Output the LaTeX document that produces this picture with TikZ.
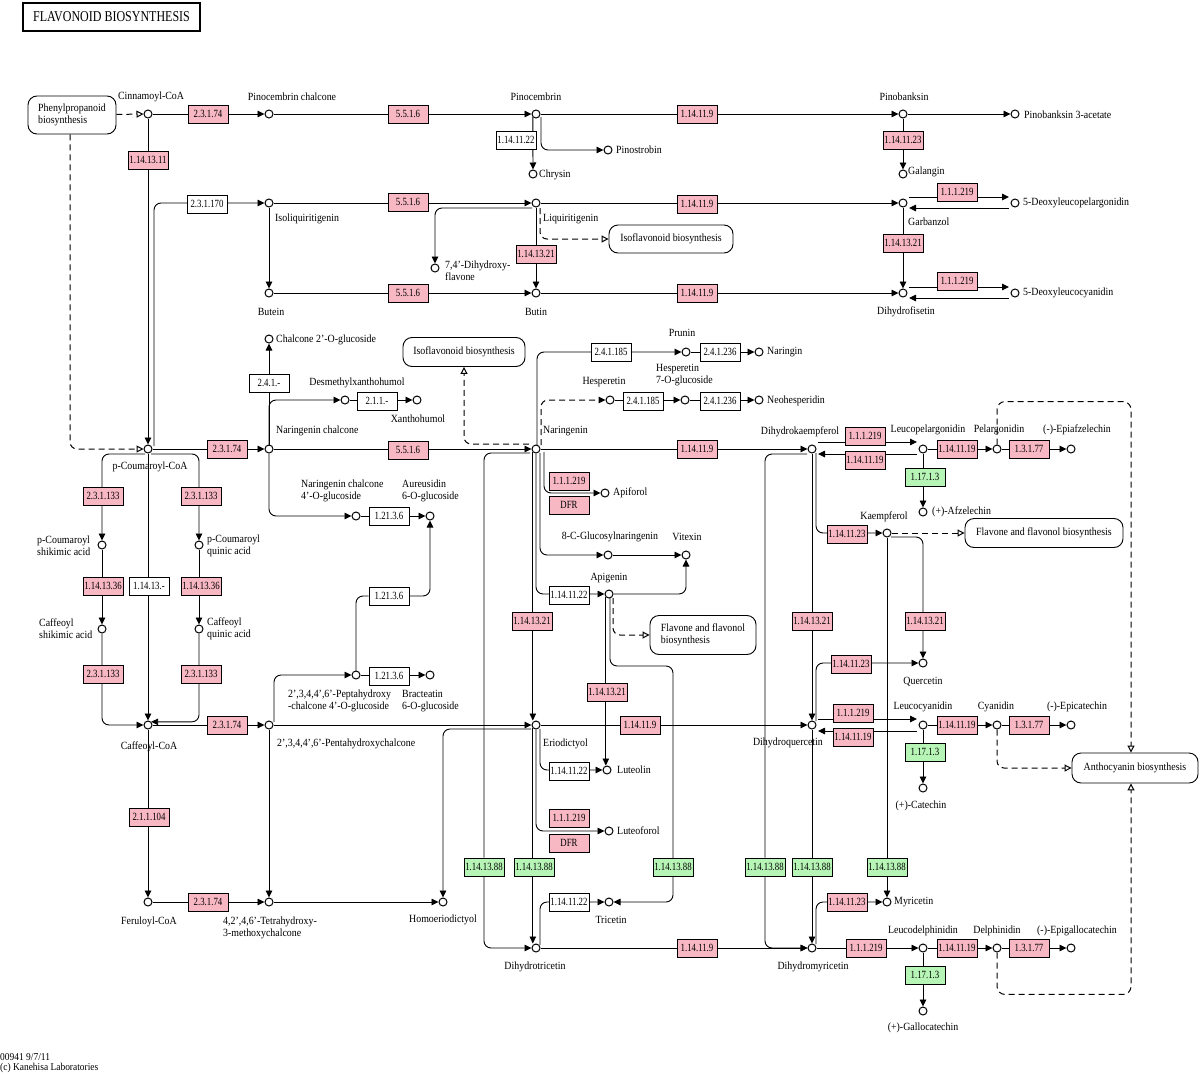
\documentclass[tikz,border=0pt]{standalone}
\usepackage{fontspec}
\setmainfont{Liberation Serif}[FakeStretch=0.9]
\newfontfamily\ecfont[FakeStretch=0.8]{Liberation Serif}
\newfontfamily\titlefont[FakeStretch=0.8]{Liberation Serif}
\usetikzlibrary{arrows.meta,calc,backgrounds}
\definecolor{ecpink}{RGB}{247,183,195}
\definecolor{ecgreen}{RGB}{183,245,183}
\tikzset{
 cpd/.style={circle, draw, fill=white, line width=1pt, minimum size=8pt, inner sep=0pt},
 ec/.style={draw, line width=0.9pt, minimum width=40pt, minimum height=18pt, inner sep=0pt, font=\ecfont\fontsize{11}{11}\selectfont},
 pk/.style={ec, fill=ecpink},
 gr/.style={ec, fill=ecgreen},
 wt/.style={ec, fill=white},
 lbl/.style={inner sep=0pt, font=\fontsize{11}{12}\selectfont},
 lblw/.style={lbl, anchor=west, align=left},
 mapbox/.style={draw, rounded corners=9pt, fill=white, line width=0.9pt, inner sep=0pt, font=\fontsize{11}{12}\selectfont, align=left},
 conn/.style={line width=0.9pt},
 arr/.style={conn, -{Triangle[length=7pt,width=6.5pt]}},
 darr/.style={line width=1pt, dash pattern=on 6pt off 4pt, -{Triangle[open,length=7pt,width=7pt,fill=white]}},
 dfarr/.style={arr, line width=1pt, dash pattern=on 6pt off 4pt},
 rc/.style={rounded corners=7pt},
}
\begin{document}
\begin{tikzpicture}[x=1pt,y=-1pt]
\useasboundingbox (0,0) rectangle (1200,1076);
% title and footer
\node[draw, line width=2.2pt, minimum width=177pt, minimum height=28pt, inner sep=0pt, font=\titlefont\fontsize{15}{15}\selectfont] (title) at (111.5,17) {FLAVONOID BIOSYNTHESIS};
\node[lbl, anchor=west, font=\fontsize{10.5}{11}\selectfont] (foot1) at (0,1057) {00941 9/7/11};
\node[lbl, anchor=west, font=\fontsize{10.5}{11}\selectfont] (foot2) at (0,1068) {(c) Kanehisa Laboratories};
% map boxes
\node[mapbox, minimum width=88pt, minimum height=38pt] (m_phe) at (72,115) {Phenylpropanoid\\biosynthesis};
\node[mapbox, minimum width=124pt, minimum height=28pt] (m_iso1) at (671,239) {Isoflavonoid biosynthesis};
\node[mapbox, minimum width=122pt, minimum height=29pt] (m_iso2) at (464,352) {Isoflavonoid biosynthesis};
\node[mapbox, minimum width=106pt, minimum height=39pt] (m_fla1) at (703,635) {Flavone and flavonol\\biosynthesis};
\node[mapbox, minimum width=158pt, minimum height=29pt] (m_fla2) at (1044,533) {Flavone and flavonol biosynthesis};
\node[mapbox, minimum width=126pt, minimum height=30pt] (m_ant) at (1135,768) {Anthocyanin biosynthesis};
% compounds
\node[cpd] (cin) at (148,114) {};
\node[cpd] (pcc) at (269,114) {};
\node[cpd] (pcb) at (536,114) {};
\node[cpd] (chr) at (533,174) {};
\node[cpd] (pst) at (608,150) {};
\node[cpd] (pbk) at (903,114) {};
\node[cpd] (pba) at (1015,114) {};
\node[cpd] (gal) at (903,174) {};
\node[cpd] (iso) at (269,203) {};
\node[cpd] (liq) at (536,203) {};
\node[cpd] (gar) at (903,203) {};
\node[cpd] (dlp) at (1015,203) {};
\node[cpd] (dhf7) at (435,268) {};
\node[cpd] (but) at (269,293) {};
\node[cpd] (btn) at (536,293) {};
\node[cpd] (dhf) at (903,293) {};
\node[cpd] (dlc) at (1015,293) {};
\node[cpd] (c2g) at (269,339) {};
\node[cpd] (dmx) at (345,400) {};
\node[cpd] (xan) at (417,400) {};
\node[cpd] (pcoa) at (148,449) {};
\node[cpd] (nch) at (269,449) {};
\node[cpd] (nar) at (536,449) {};
\node[cpd] (prn) at (686,352) {};
\node[cpd] (ngn) at (759,352) {};
\node[cpd] (hes) at (610,400) {};
\node[cpd] (h7g) at (685,400) {};
\node[cpd] (neo) at (759,400) {};
\node[cpd] (dhk) at (812,449) {};
\node[cpd] (lpg) at (923,449) {};
\node[cpd] (plg) at (997,449) {};
\node[cpd] (epz) at (1071,449) {};
\node[cpd] (afz) at (923,512) {};
\node[cpd] (kmp) at (887,533) {};
\node[cpd] (nc4) at (356,516) {};
\node[cpd] (aur) at (430,516) {};
\node[cpd] (apf) at (605,493) {};
\node[cpd] (cgn) at (608,555) {};
\node[cpd] (vit) at (686,555) {};
\node[cpd] (api) at (609,594) {};
\node[cpd] (pcs) at (102,545) {};
\node[cpd] (cfs) at (102,629) {};
\node[cpd] (pcq) at (199,545) {};
\node[cpd] (cfq) at (199,629) {};
\node[cpd] (caf) at (148,725) {};
\node[cpd] (pen) at (269,725) {};
\node[cpd] (fer) at (148,902) {};
\node[cpd] (thm) at (269,902) {};
\node[cpd] (pep) at (356,675) {};
\node[cpd] (brc) at (430,675) {};
\node[cpd] (eri) at (536,725) {};
\node[cpd] (hom) at (443,902) {};
\node[cpd] (lut) at (607,770) {};
\node[cpd] (ltf) at (609,831) {};
\node[cpd] (tri) at (609,902) {};
\node[cpd] (dht) at (536,948) {};
\node[cpd] (dhq) at (812,725) {};
\node[cpd] (qrc) at (923,663) {};
\node[cpd] (lcy) at (923,725) {};
\node[cpd] (cya) at (997,725) {};
\node[cpd] (epc) at (1071,725) {};
\node[cpd] (cat) at (923,788) {};
\node[cpd] (myr) at (887,902) {};
\node[cpd] (dhm) at (812,948) {};
\node[cpd] (ldp) at (923,948) {};
\node[cpd] (dlh) at (997,948) {};
\node[cpd] (egc) at (1071,948) {};
\node[cpd] (gct) at (923,1011) {};
% enzymes
\node[pk] (e1) at (208,114) {2.3.1.74};
\node[pk] (e2) at (148,160) {1.14.13.11};
\node[pk] (e3) at (408,114) {5.5.1.6};
\node[pk] (e4) at (697,114) {1.14.11.9};
\node[wt] (e5) at (516,140) {1.14.11.22};
\node[pk] (e6) at (903,140) {1.14.11.23};
\node[pk] (e7) at (957,192) {1.1.1.219};
\node[pk] (e8) at (903,243) {1.14.13.21};
\node[pk] (e9) at (957,281) {1.1.1.219};
\node[wt] (e10) at (207,204) {2.3.1.170};
\node[pk] (e11) at (408,202) {5.5.1.6};
\node[pk] (e12) at (697,204) {1.14.11.9};
\node[pk] (e13) at (536,254) {1.14.13.21};
\node[pk] (e14) at (408,293) {5.5.1.6};
\node[pk] (e15) at (697,293) {1.14.11.9};
\node[wt] (e16) at (269,383) {2.4.1.-};
\node[wt] (e17) at (377,401) {2.1.1.-};
\node[pk] (e18) at (227,449) {2.3.1.74};
\node[pk] (e19) at (408,450) {5.5.1.6};
\node[wt] (e20) at (611,352) {2.4.1.185};
\node[wt] (e21) at (720,352) {2.4.1.236};
\node[wt] (e22) at (643,401) {2.4.1.185};
\node[wt] (e23) at (720,401) {2.4.1.236};
\node[pk] (e24) at (697,449) {1.14.11.9};
\node[pk] (e25) at (865,436) {1.1.1.219};
\node[pk] (e26) at (865,460) {1.14.11.19};
\node[pk] (e27) at (957,449) {1.14.11.19};
\node[pk] (e28) at (1029,449) {1.3.1.77};
\node[gr] (e29) at (925,477) {1.17.1.3};
\node[pk] (e30) at (847,534) {1.14.11.23};
\node[wt] (e31) at (389,516) {1.21.3.6};
\node[wt] (e32) at (389,596) {1.21.3.6};
\node[wt] (e33) at (389,676) {1.21.3.6};
\node[pk] (e34) at (569,481) {1.1.1.219};
\node[pk] (e35) at (569,505) {DFR};
\node[wt] (e36) at (569,595) {1.14.11.22};
\node[pk] (e37) at (532,621) {1.14.13.21};
\node[pk] (e38) at (607,692) {1.14.13.21};
\node[pk] (e39) at (103,496) {2.3.1.133};
\node[pk] (e40) at (201,496) {2.3.1.133};
\node[pk] (e41) at (103,586) {1.14.13.36};
\node[wt] (e42) at (149,586) {1.14.13.-};
\node[pk] (e43) at (201,586) {1.14.13.36};
\node[pk] (e44) at (103,674) {2.3.1.133};
\node[pk] (e45) at (201,674) {2.3.1.133};
\node[pk] (e46) at (227,725) {2.3.1.74};
\node[pk] (e47) at (149,817) {2.1.1.104};
\node[pk] (e48) at (208,902) {2.3.1.74};
\node[gr] (e49) at (484,867) {1.14.13.88};
\node[gr] (e50) at (534,867) {1.14.13.88};
\node[wt] (e51) at (569,771) {1.14.11.22};
\node[pk] (e52) at (569,818) {1.1.1.219};
\node[pk] (e53) at (569,843) {DFR};
\node[wt] (e54) at (569,902) {1.14.11.22};
\node[pk] (e55) at (640,725) {1.14.11.9};
\node[gr] (e56) at (673,867) {1.14.13.88};
\node[gr] (e57) at (765,867) {1.14.13.88};
\node[gr] (e58) at (812,867) {1.14.13.88};
\node[gr] (e59) at (887,867) {1.14.13.88};
\node[pk] (e60) at (847,902) {1.14.11.23};
\node[pk] (e61) at (697,948) {1.14.11.9};
\node[pk] (e62) at (866,948) {1.1.1.219};
\node[pk] (e63) at (957,948) {1.14.11.19};
\node[pk] (e64) at (1029,948) {1.3.1.77};
\node[gr] (e65) at (925,975) {1.17.1.3};
\node[pk] (e66) at (853,713) {1.1.1.219};
\node[pk] (e67) at (853,737) {1.14.11.19};
\node[pk] (e68) at (957,725) {1.14.11.19};
\node[pk] (e69) at (1029,725) {1.3.1.77};
\node[gr] (e70) at (925,752) {1.17.1.3};
\node[pk] (e71) at (812,621) {1.14.13.21};
\node[pk] (e72) at (925,621) {1.14.13.21};
\node[pk] (e73) at (851,664) {1.14.11.23};
% labels
\node[lbl] (l_cin) at (151,97) {Cinnamoyl-CoA};
\node[lbl] (l_pcc) at (292,97) {Pinocembrin chalcone};
\node[lbl] (l_pcb) at (536,97) {Pinocembrin};
\node[lbl] (l_pbk) at (904,97) {Pinobanksin};
\node[lblw] (l_pba) at (1024,115) {Pinobanksin 3-acetate};
\node[lblw] (l_chr) at (539,175) {Chrysin};
\node[lblw] (l_pst) at (616,150) {Pinostrobin};
\node[lblw] (l_gal) at (908,172) {Galangin};
\node[lblw] (l_iso) at (275,219) {Isoliquiritigenin};
\node[lblw] (l_liq) at (543,219) {Liquiritigenin};
\node[lblw] (l_gar) at (908,222) {Garbanzol};
\node[lblw] (l_dlp) at (1023,203) {5-Deoxyleucopelargonidin};
\node[lblw] (l_dhf7) at (445,271) {7,4'-Dihydroxy-\\flavone};
\node[lbl] (l_but) at (271,312) {Butein};
\node[lbl] (l_btn) at (536,312) {Butin};
\node[lbl] (l_dhf) at (906,312) {Dihydrofisetin};
\node[lblw] (l_dlc) at (1023,293) {5-Deoxyleucocyanidin};
\node[lblw] (l_c2g) at (276,340) {Chalcone 2'-O-glucoside};
\node[lbl] (l_dmx) at (357,383) {Desmethylxanthohumol};
\node[lbl] (l_xan) at (418,419) {Xanthohumol};
\node[lbl] (l_pcoa) at (150,467) {p-Coumaroyl-CoA};
\node[lblw] (l_nch) at (276,431) {Naringenin chalcone};
\node[lblw] (l_nar) at (543,431) {Naringenin};
\node[lbl] (l_prn) at (682,333) {Prunin};
\node[lblw] (l_ngn) at (767,352) {Naringin};
\node[lbl] (l_hes) at (604,382) {Hesperetin};
\node[lblw] (l_h7g) at (656,375) {Hesperetin\\7-O-glucoside};
\node[lblw] (l_neo) at (767,401) {Neohesperidin};
\node[lbl] (l_dhk) at (800,432) {Dihydrokaempferol};
\node[lbl] (l_lpg) at (928,430) {Leucopelargonidin};
\node[lbl] (l_plg) at (999,430) {Pelargonidin};
\node[lbl] (l_epz) at (1077,430) {(-)-Epiafzelechin};
\node[lblw] (l_afz) at (932,512) {(+)-Afzelechin};
\node[lbl] (l_kmp) at (884,517) {Kaempferol};
\node[lblw] (l_nc4) at (301,491) {Naringenin chalcone\\4'-O-glucoside};
\node[lblw] (l_aur) at (402,491) {Aureusidin\\6-O-glucoside};
\node[lblw] (l_apf) at (613,493) {Apiforol};
\node[lbl] (l_cgn) at (610,537) {8-C-Glucosylnaringenin};
\node[lbl] (l_vit) at (687,537) {Vitexin};
\node[lbl] (l_api) at (609,578) {Apigenin};
\node[lblw] (l_pcs) at (37,546) {p-Coumaroyl\\shikimic acid};
\node[lblw] (l_cfs) at (39,629) {Caffeoyl\\shikimic acid};
\node[lblw] (l_pcq) at (207,546) {p-Coumaroyl\\quinic acid};
\node[lblw] (l_cfq) at (207,629) {Caffeoyl\\quinic acid};
\node[lbl] (l_caf) at (149,747) {Caffeoyl-CoA};
\node[lblw] (l_pen) at (277,744) {2',3,4,4',6'-Pentahydroxychalcone};
\node[lbl] (l_fer) at (149,922) {Feruloyl-CoA};
\node[lblw] (l_thm) at (223,928) {4,2',4,6'-Tetrahydroxy-\\3-methoxychalcone};
\node[lblw] (l_pep) at (288,701) {2',3,4,4',6'-Peptahydroxy\\-chalcone 4'-O-glucoside};
\node[lblw] (l_brc) at (402,701) {Bracteatin\\6-O-glucoside};
\node[lblw] (l_eri) at (543,744) {Eriodictyol};
\node[lbl] (l_hom) at (443,920) {Homoeriodictyol};
\node[lblw] (l_lut) at (617,770) {Luteolin};
\node[lblw] (l_ltf) at (617,831) {Luteoforol};
\node[lbl] (l_tri) at (611,920) {Tricetin};
\node[lbl] (l_dht) at (535,967) {Dihydrotricetin};
\node[lbl] (l_dhq) at (788,743) {Dihydroquercetin};
\node[lbl] (l_qrc) at (923,682) {Quercetin};
\node[lbl] (l_lcy) at (923,707) {Leucocyanidin};
\node[lbl] (l_cya) at (996,707) {Cyanidin};
\node[lbl] (l_epc) at (1077,707) {(-)-Epicatechin};
\node[lbl] (l_cat) at (921,806) {(+)-Catechin};
\node[lblw] (l_myr) at (894,902) {Myricetin};
\node[lbl] (l_dhm) at (813,967) {Dihydromyricetin};
\node[lbl] (l_ldp) at (923,931) {Leucodelphinidin};
\node[lbl] (l_dlh) at (997,931) {Delphinidin};
\node[lbl] (l_egc) at (1077,931) {(-)-Epigallocatechin};
\node[lbl] (l_gct) at (923,1028) {(+)-Gallocatechin};
% connectors
\begin{pgfonlayer}{background}
\draw[darr] (m_phe) -- (cin);
\draw[darr, rc] ([xshift=-2pt]m_phe.south) |- (pcoa);
\draw[arr] (cin) -- (pcc);
\draw[arr] (pcc) -- (pcb);
\draw[arr] (pcb) -- (pbk);
\draw[arr] (pbk) -- (pba);
\draw[arr] (pcb.south west) -- (chr);
\draw[arr, rc] ($(pcb)+(5,3)$) |- (pst);
\draw[arr] (pbk) -- (gal);
\draw[arr] (cin) -- (pcoa);
\draw[arr, rc] ($(pcoa)+(6,-3)$) |- (iso);
\draw[arr] (iso) -- (liq);
\draw[arr] (liq) -- (gar);
\draw[arr] ($(gar)+(6,-6)$) -- ($(dlp)+(-6,-6)$);
\draw[arr] ($(dlp)+(-6,5)$) -- ($(gar)+(6,5)$);
\draw[arr] (gar) -- (dhf);
\draw[arr] ($(dhf)+(6,-6)$) -- ($(dlc)+(-6,-6)$);
\draw[arr] ($(dlc)+(-6,5)$) -- ($(dhf)+(6,5)$);
\draw[arr] (iso) -- (but);
\draw[arr] (but) -- (btn);
\draw[arr] (btn) -- (dhf);
\draw[arr] (liq) -- (btn);
\draw[arr, rc] ($(liq)+(-4,5)$) -| (dhf7);
\draw[darr, rc] ($(liq)+(4,5)$) |- (m_iso1);
\draw[arr] (nch) -- (c2g);
\draw[arr, rc] (nch) |- (dmx);
\draw[arr] (dmx) -- (xan);
\draw[arr] (pcoa) -- (nch);
\draw[arr] (nch) -- (nar);
\draw[arr, rc] (nch) |- (nc4);
\draw[arr] (nc4) -- (aur);
\draw[darr, rc] ($(nar)+(-7,-5)$) -| (m_iso2);
\draw[arr, rc] ($(nar)+(1,-4)$) |- (prn);
\draw[arr] (prn) -- (ngn);
\draw[dfarr, rc] ($(nar)+(5,-4)$) |- (hes);
\draw[arr] (hes) -- (h7g);
\draw[arr] (h7g) -- (neo);
\draw[arr] (nar) -- (dhk);
\draw[arr] ($(dhk)+(6,-7)$) -- ($(lpg)+(-6,-7)$);
\draw[arr] ($(lpg)+(-6,5)$) -- ($(dhk)+(6,5)$);
\draw[arr] (lpg) -- (plg);
\draw[arr] (plg) -- (epz);
\draw[arr] (lpg) -- (afz);
\draw[darr, rounded corners=8pt] (plg.north) |- ($(m_ant.north)+(-4,-351)$) -- ($(m_ant.north)+(-4,0)$);
\draw[arr, rc] ($(nar)+(8,3)$) |- (apf);
\draw[arr, rc] ($(nar)+(4,4)$) |- (cgn);
\draw[arr] (cgn) -- (vit);
\draw[arr, rc] (nar.south) |- (api);
\draw[arr, rc] (api) -| (vit);
\draw[arr] (nar.south west) -- (nar.south west |- eri.north);
\draw[arr] (api.south west) -- (api.south west |- lut.north);
\draw[darr, rc] ($(api)+(4,4)$) |- (m_fla1);
\draw[arr, rc] ($(api)+(1,4)$) |- ($(e56)+(0,-201)$) |- (tri);
\draw[arr, rc] ($(pcoa)+(-3,5)$) -| (pcs);
\draw[arr, rc] ($(pcoa)+(3,5)$) -| (pcq);
\draw[arr] (pcs) -- (cfs);
\draw[arr] (pcq) -- (cfq);
\draw[arr, rc] (cfs) |- (caf);
\draw[arr, rc] (cfq) |- (caf.north east);
\draw[arr] (pcoa) -- (caf);
\draw[arr] (caf) -- (pen);
\draw[arr] (caf) -- (fer);
\draw[arr] (fer) -- (thm);
\draw[arr] (pen) -- (thm);
\draw[arr] (thm) -- (hom);
\draw[arr] (pen) -- (eri);
\draw[arr, rc] ($(pen)+(5,-3)$) |- (pep);
\draw[arr] (pep) -- (brc);
\draw[arr, rc] (pep) |- (e32) -| (aur);
\draw[arr, rc] ($(eri)+(-5,4)$) -| (hom);
\draw[arr, rc] ($(eri)+(4,4)$) |- (lut);
\draw[arr, rc] (eri.south) |- (ltf);
\draw[arr] (eri.south west) -- (eri.south west |- dht.north);
\draw[arr, rc] ($(nar)+(-6,4)$) -| (e49) |- (dht);
\draw[arr, rc] ($(dht)+(4,-3)$) |- (tri);
\draw[arr] (dht) -- (dhm);
\draw[arr] (eri) -- (dhq);
\draw[arr] (dhk) -- (dhq);
\draw[arr, rc] ($(dhk)+(4,4)$) |- (kmp);
\draw[arr, rc] ($(dhk)+(-5,5)$) -| (e57) |- (dhm);
\draw[arr] (dhq) -- (dhm);
\draw[darr] (kmp) -- (m_fla2);
\draw[arr, rc] ($(kmp)+(4,4)$) -| (qrc);
\draw[arr] (kmp) -- (myr);
\draw[arr, rc] ($(dhq)+(4,-4)$) |- (qrc);
\draw[arr] ($(dhq)+(6,-6)$) -- ($(lcy)+(-6,-6)$);
\draw[arr] ($(lcy)+(-6,6)$) -- ($(dhq)+(6,6)$);
\draw[arr] (lcy) -- (cya);
\draw[arr] (cya) -- (epc);
\draw[arr] (lcy) -- (cat);
\draw[darr, rc] (cya.south) |- (m_ant);
\draw[arr, rc] ($(dhm)+(4,-4)$) |- (myr);
\draw[arr] (dhm) -- (ldp);
\draw[arr] (ldp) -- (dlh);
\draw[arr] (dlh) -- (egc);
\draw[arr] (ldp) -- (gct);
\draw[darr, rounded corners=8pt] (dlh.south) |- ($(m_ant.south)+(-4,211)$) -- ($(m_ant.south)+(-4,0)$);
\end{pgfonlayer}
\end{tikzpicture}
\end{document}
